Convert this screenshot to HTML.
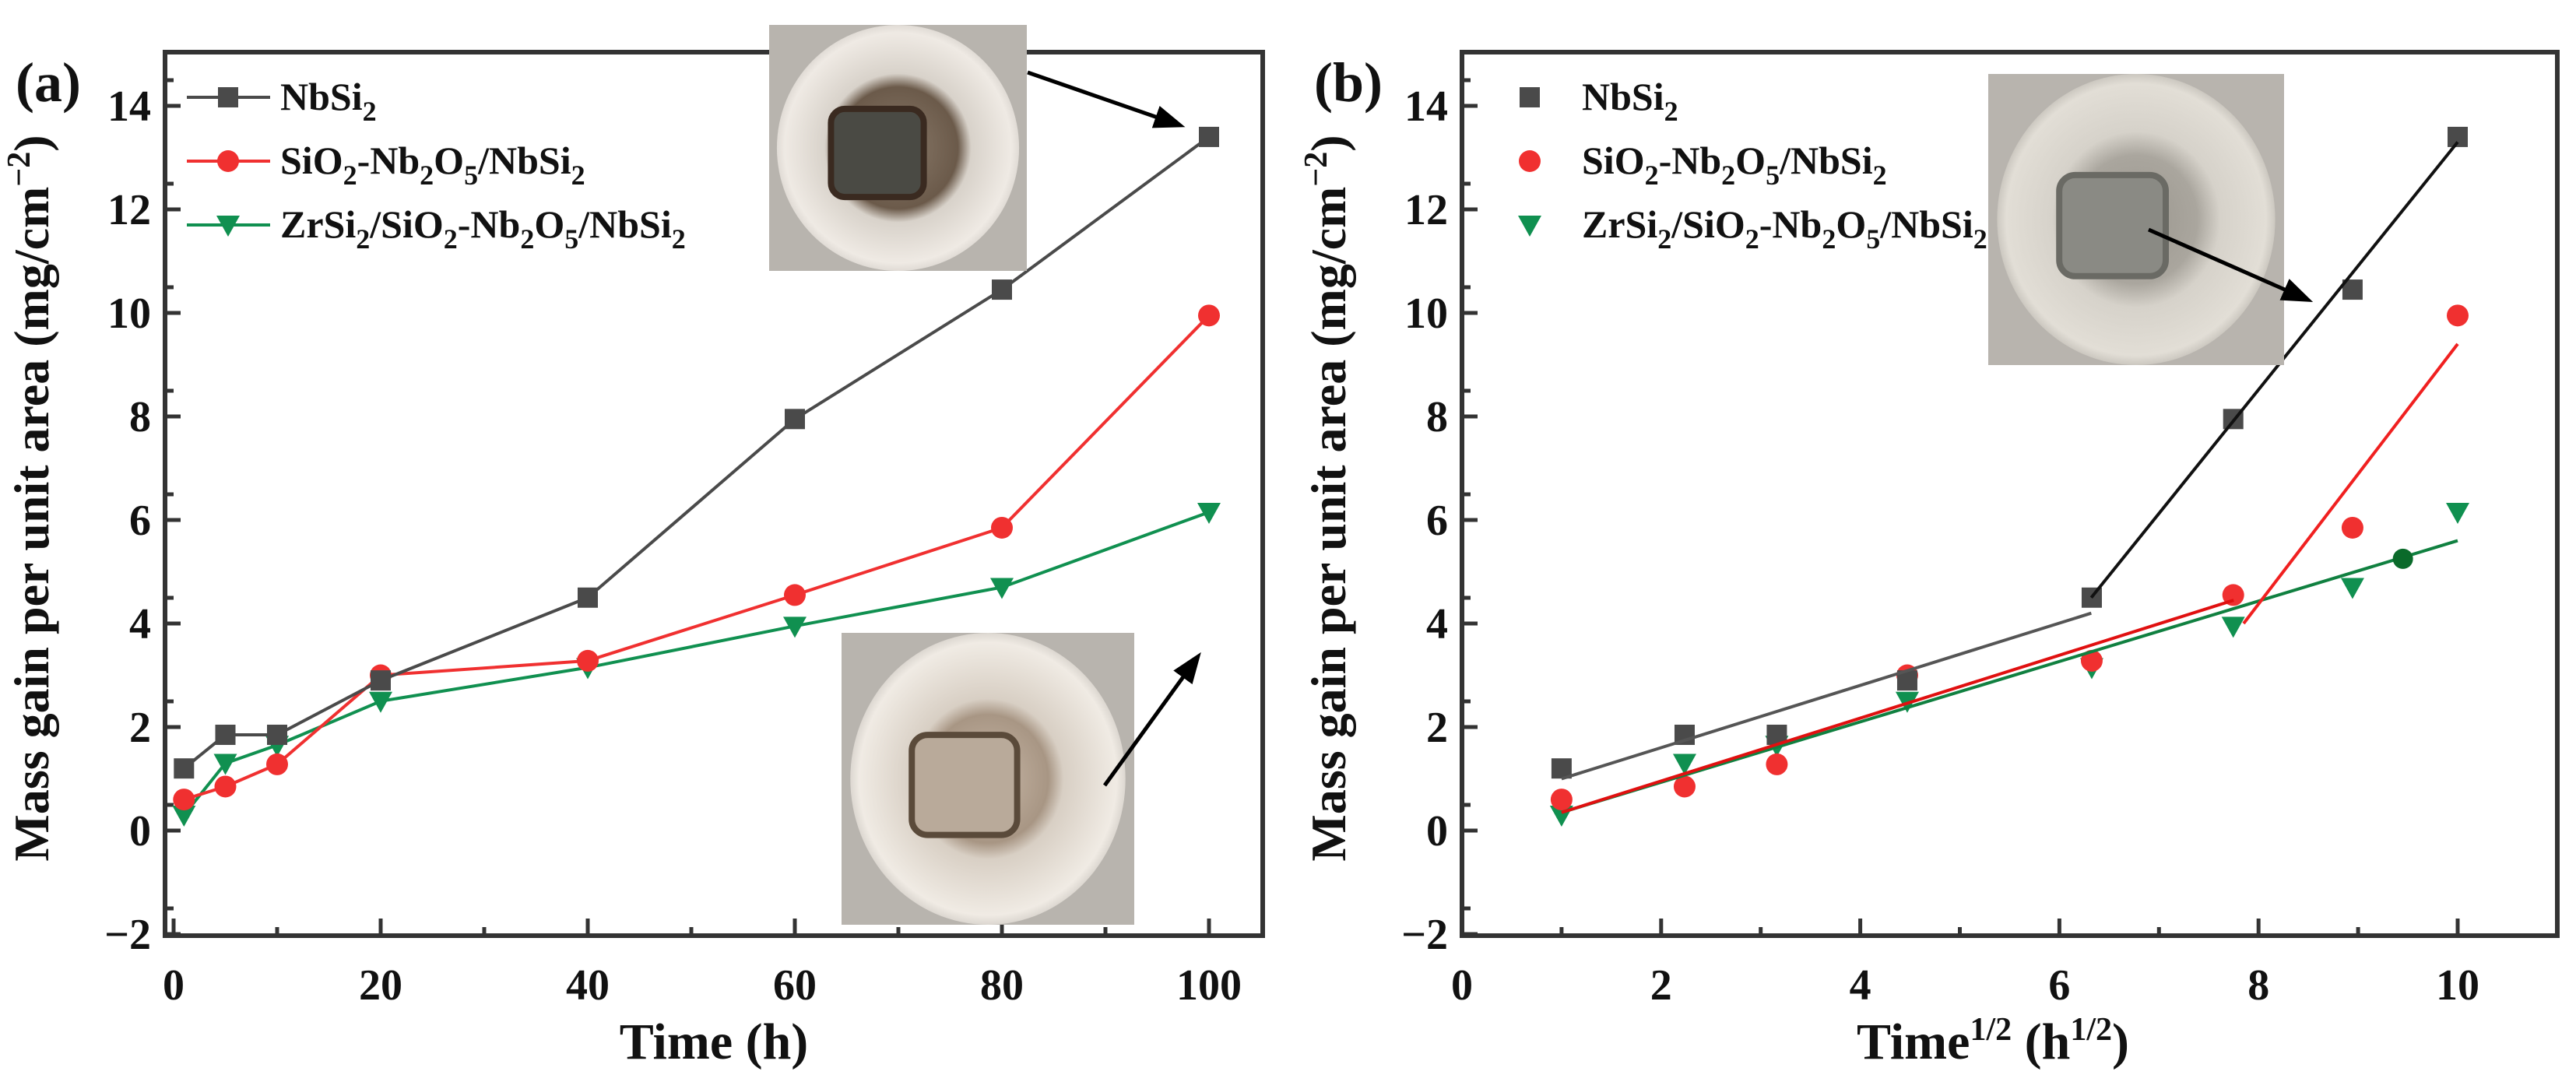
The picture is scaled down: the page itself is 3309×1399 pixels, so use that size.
<!DOCTYPE html>
<html><head><meta charset="utf-8"><style>
html,body{margin:0;padding:0;background:#fff}
svg{display:block}
text{font-family:"Liberation Serif","Times New Roman",serif;font-weight:bold;fill:#111}
</style></head><body>
<svg id="fig" width="3309" height="1399" viewBox="0 0 3309 1399" xmlns="http://www.w3.org/2000/svg" font-family="Liberation Serif, serif">
<defs>
<radialGradient id="cup1" cx="50%" cy="50%" r="55%">
<stop offset="0" stop-color="#8a7a6a"/><stop offset="0.45" stop-color="#6b5a4a"/><stop offset="0.55" stop-color="#d8d2ca"/><stop offset="0.85" stop-color="#efeae4"/><stop offset="1" stop-color="#c9c4be"/></radialGradient>
<radialGradient id="cup2" cx="50%" cy="50%" r="55%">
<stop offset="0" stop-color="#c8b8a8"/><stop offset="0.4" stop-color="#a89684"/><stop offset="0.5" stop-color="#d8cfc4"/><stop offset="0.85" stop-color="#f0ebe4"/><stop offset="1" stop-color="#bdb8b2"/></radialGradient>
<radialGradient id="cup3" cx="50%" cy="50%" r="55%">
<stop offset="0" stop-color="#9a968e"/><stop offset="0.4" stop-color="#aaa69e"/><stop offset="0.55" stop-color="#d6d2ca"/><stop offset="0.85" stop-color="#e2ded6"/><stop offset="1" stop-color="#a9a59e"/></radialGradient>
<marker id="ah" markerWidth="40" markerHeight="40" refX="30" refY="15" orient="auto" markerUnits="userSpaceOnUse" viewBox="0 0 40 30"><path d="M0,0 L40,15 L0,30 z" fill="#000"/></marker>
</defs>
<g id="panelA"></g>
<g id="panelB"></g>
</svg>
<script>
// ---- data ----
const timeH = [1, 5, 10, 20, 40, 60, 80, 100];
const sqrtTime = [1, 2.236, 3.162, 4.472, 6.325, 7.746, 8.944, 10];
const nbsi2 = [1.2, 1.85, 1.85, 2.9, 4.5, 7.95, 10.45, 13.4];
const sio2 = [0.6, 0.85, 1.28, 3.0, 3.28, 4.55, 5.85, 9.95];
const zrsi2 = [0.3, 1.3, 1.65, 2.5, 3.15, 3.95, 4.7, 6.15];
const yTicks = [-2, 0, 2, 4, 6, 8, 10, 12, 14];
const xTicksA = [0, 20, 40, 60, 80, 100];
const xTicksB = [0, 2, 4, 6, 8, 10];
// fit segments panel b: [x1,y1,x2,y2]
const fitBlack1 = [1, 1.0, 6.32, 4.2];
const fitBlack2 = [6.32, 4.5, 10, 13.3];
const fitRed1 = [1, 0.35, 7.75, 4.45];
const fitRed2 = [7.85, 4.0, 10, 9.4];
const fitGreen = [1, 0.35, 10, 5.6];
const greenDot = [9.45, 5.25];

const NS = "http://www.w3.org/2000/svg";
function mk(parent, tag, attrs, txt){const e=document.createElementNS(NS,tag);for(const k in attrs)e.setAttribute(k,attrs[k]);if(txt!==undefined)e.textContent=txt;parent.appendChild(e);return e;}

const yS = v => 1067 - v*66.5;
const plotTop=67, plotBot=1202;
const COLORS = {black:"#4a4a4a", red:"#f03030", green:"#109050"};

function marker(g, type, x, y, color){
  let e;
  if(type==='sq'){ e=mk(g,'rect',{x:x-13,y:y-13,width:26,height:26,fill:color}); }
  else if(type==='ci'){ e=mk(g,'circle',{cx:x,cy:y,r:14,fill:color}); }
  else { e=mk(g,'path',{d:`M${x-15},${y-12} L${x+15},${y-12} L${x},${y+15} Z`,fill:color}); }
  return e;
}

function axes(g, L, R, xS, xTicks, minorX){
  const frame = mk(g,'rect',{x:L,y:plotTop,width:R-L,height:plotBot-plotTop,fill:'none',stroke:'#333','stroke-width':6});
  
  
  yTicks.forEach(v=>{
    const y=yS(v);
    mk(g,'line',{x1:L,y1:y,x2:L+20,y2:y,stroke:'#333','stroke-width':5});
    const t=mk(g,'text',{x:L-18,y:y+19,'font-size':56,'text-anchor':'end'},v<0?'\u2212'+Math.abs(v):String(v));
    
    
    mk(g,'line',{x1:L,y1:y-33,x2:L+11,y2:y-33,stroke:'#333','stroke-width':5});
  });
  xTicks.forEach(v=>{
    const x=xS(v);
    mk(g,'line',{x1:x,y1:plotBot,x2:x,y2:plotBot-22,stroke:'#333','stroke-width':5});
    const t=mk(g,'text',{x:x,y:plotBot+82,'font-size':56,'text-anchor':'middle'},String(v));
    
    
  });
  minorX.forEach(v=>{const x=xS(v);mk(g,'line',{x1:x,y1:plotBot,x2:x,y2:plotBot-11,stroke:'#333','stroke-width':5});});
}

function ylabel(g, cx){
  const t=mk(g,'text',{transform:`translate(${cx},640) rotate(-90)`,'font-size':64,'text-anchor':'middle'});
  
  
  t.innerHTML='Mass gain per unit area (mg/cm<tspan dy="-24" font-size="42">\u22122</tspan><tspan dy="24">)</tspan>';
}

function legend(g, x0, withLine){
  const items=[['sq',COLORS.black,'NbSi<tspan dy="14" font-size="36">2</tspan>'],
    ['ci',COLORS.red,'SiO<tspan dy="14" font-size="36">2</tspan><tspan dy="-14">-Nb</tspan><tspan dy="14" font-size="36">2</tspan><tspan dy="-14">O</tspan><tspan dy="14" font-size="36">5</tspan><tspan dy="-14">/NbSi</tspan><tspan dy="14" font-size="36">2</tspan>'],
    ['tr',COLORS.green,'ZrSi<tspan dy="14" font-size="36">2</tspan><tspan dy="-14">/SiO</tspan><tspan dy="14" font-size="36">2</tspan><tspan dy="-14">-Nb</tspan><tspan dy="14" font-size="36">2</tspan><tspan dy="-14">O</tspan><tspan dy="14" font-size="36">5</tspan><tspan dy="-14">/NbSi</tspan><tspan dy="14" font-size="36">2</tspan>']];
  const names=['legend-nbsi2','legend-sio2-nb2o5','legend-zrsi2'];
  items.forEach((it,i)=>{
    const y=[125,207,289][i];
    const lg=mk(g,'g',{});
    
    
    if(withLine){ mk(lg,'line',{x1:x0,y1:y,x2:x0+107,y2:y,stroke:it[1],'stroke-width':4}); marker(lg,it[0],x0+53,y,it[1]); }
    else marker(lg,it[0],x0+53,y,it[1]);
    const t=mk(lg,'text',{x:x0+120,y:y+16,'font-size':50});
    t.innerHTML=it[2];
  });
}

function photo(g, x, y, w, h, grad, name, sq, sqStroke){
  const pg=mk(g,'g',{});
  
  
  mk(pg,'rect',{x:x,y:y,width:w,height:h,fill:'#b8b4ae'});
  mk(pg,'ellipse',{cx:x+w/2,cy:y+h/2,rx:w*0.47,ry:h*0.5,fill:`url(#${grad})`});
  const s=w*0.36;
  mk(pg,'rect',{x:x+w/2-s/2-w*0.08,y:y+h/2-s/2+h*0.03,width:s,height:s*0.95,rx:s*0.15,fill:sq,stroke:sqStroke,'stroke-width':8});
}

// ---- panel A ----
(function(){
  const g=document.getElementById('panelA');
  const L=212,R=1622; const xS=v=>223+v*13.3;
  axes(g,L,R,xS,xTicksA,[10,30,50,70,90]);
  ylabel(g,62);
  const ta=mk(g,'text',{x:20,y:130,'font-size':72},'(a)');
   
  const xt=mk(g,'text',{x:917,y:1360,'font-size':66,'text-anchor':'middle'},'Time (h)');
   
  const series=[[nbsi2,'sq',COLORS.black,'series-nbsi2'],[sio2,'ci',COLORS.red,'series-sio2-nb2o5'],[zrsi2,'tr',COLORS.green,'series-zrsi2']];
  series.slice().reverse().forEach(s=>{
    const sg=mk(g,'g',{});
    
    
    mk(sg,'polyline',{points:timeH.map((t,i)=>xS(t)+','+yS(s[0][i])).join(' '),fill:'none',stroke:s[2],'stroke-width':4});
    timeH.forEach((t,i)=>{const m=marker(sg,s[1],xS(t),yS(s[0][i]),s[2]);
       });
  });
  legend(g,240,true);
  photo(g,988,32,331,316,'cup1','photo-nbsi2','#4a4a44','#3a2a20');
  photo(g,1081,813,376,375,'cup2','photo-zrsi2','#b9aa9a','#5a4a3a');
  mk(g,'line',{x1:1320,y1:93,x2:1513,y2:160,stroke:'#000','stroke-width':5,'marker-end':'url(#ah)'});
  mk(g,'line',{x1:1419,y1:1009,x2:1537,y2:846,stroke:'#000','stroke-width':5,'marker-end':'url(#ah)'});
})();

// ---- panel B ----
(function(){
  const g=document.getElementById('panelB');
  const L=1878,R=3285; const xS=v=>1878+v*127.9;
  axes(g,L,R,xS,xTicksB,[1,3,5,7,9]);
  ylabel(g,1728);
  const tb=mk(g,'text',{x:1688,y:130,'font-size':72},'(b)');
   
  const xt=mk(g,'text',{x:2560,y:1360,'font-size':66,'text-anchor':'middle'});
   
  xt.innerHTML='Time<tspan dy="-24" font-size="42">1/2</tspan><tspan dy="24"> (h</tspan><tspan dy="-24" font-size="42">1/2</tspan><tspan dy="24">)</tspan>';
  const series=[[nbsi2,'sq',COLORS.black,'series-nbsi2'],[sio2,'ci',COLORS.red,'series-sio2-nb2o5'],[zrsi2,'tr',COLORS.green,'series-zrsi2']];
  series.slice().reverse().forEach(s=>{
    const sg=mk(g,'g',{});
    
    
    sqrtTime.forEach((t,i)=>{const m=marker(sg,s[1],xS(t),yS(s[0][i]),s[2]);
       });
  });
  const fits=[[fitGreen,'#108040','fit-zrsi2'],[fitBlack1,'#555','fit-nbsi2-stage1'],[fitBlack2,'#111','fit-nbsi2-stage2'],[fitRed1,'#e01010','fit-sio2-stage1'],[fitRed2,'#f02020','fit-sio2-stage2']];
  fits.forEach(f=>{const a=f[0];const l=mk(g,'line',{x1:xS(a[0]),y1:yS(a[1]),x2:xS(a[2]),y2:yS(a[3]),stroke:f[1],'stroke-width':4});
     });
  const gd=mk(g,'circle',{cx:xS(greenDot[0]),cy:yS(greenDot[1]),r:13,fill:'#0a6a2a'});
   
  legend(g,1912,false);
  photo(g,2554,95,380,374,'cup3','photo-sio2','#8a8a84','#6a6a64');
  mk(g,'line',{x1:2760,y1:295,x2:2962,y2:384,stroke:'#000','stroke-width':5,'marker-end':'url(#ah)'});
})();
</script>
</body></html>
